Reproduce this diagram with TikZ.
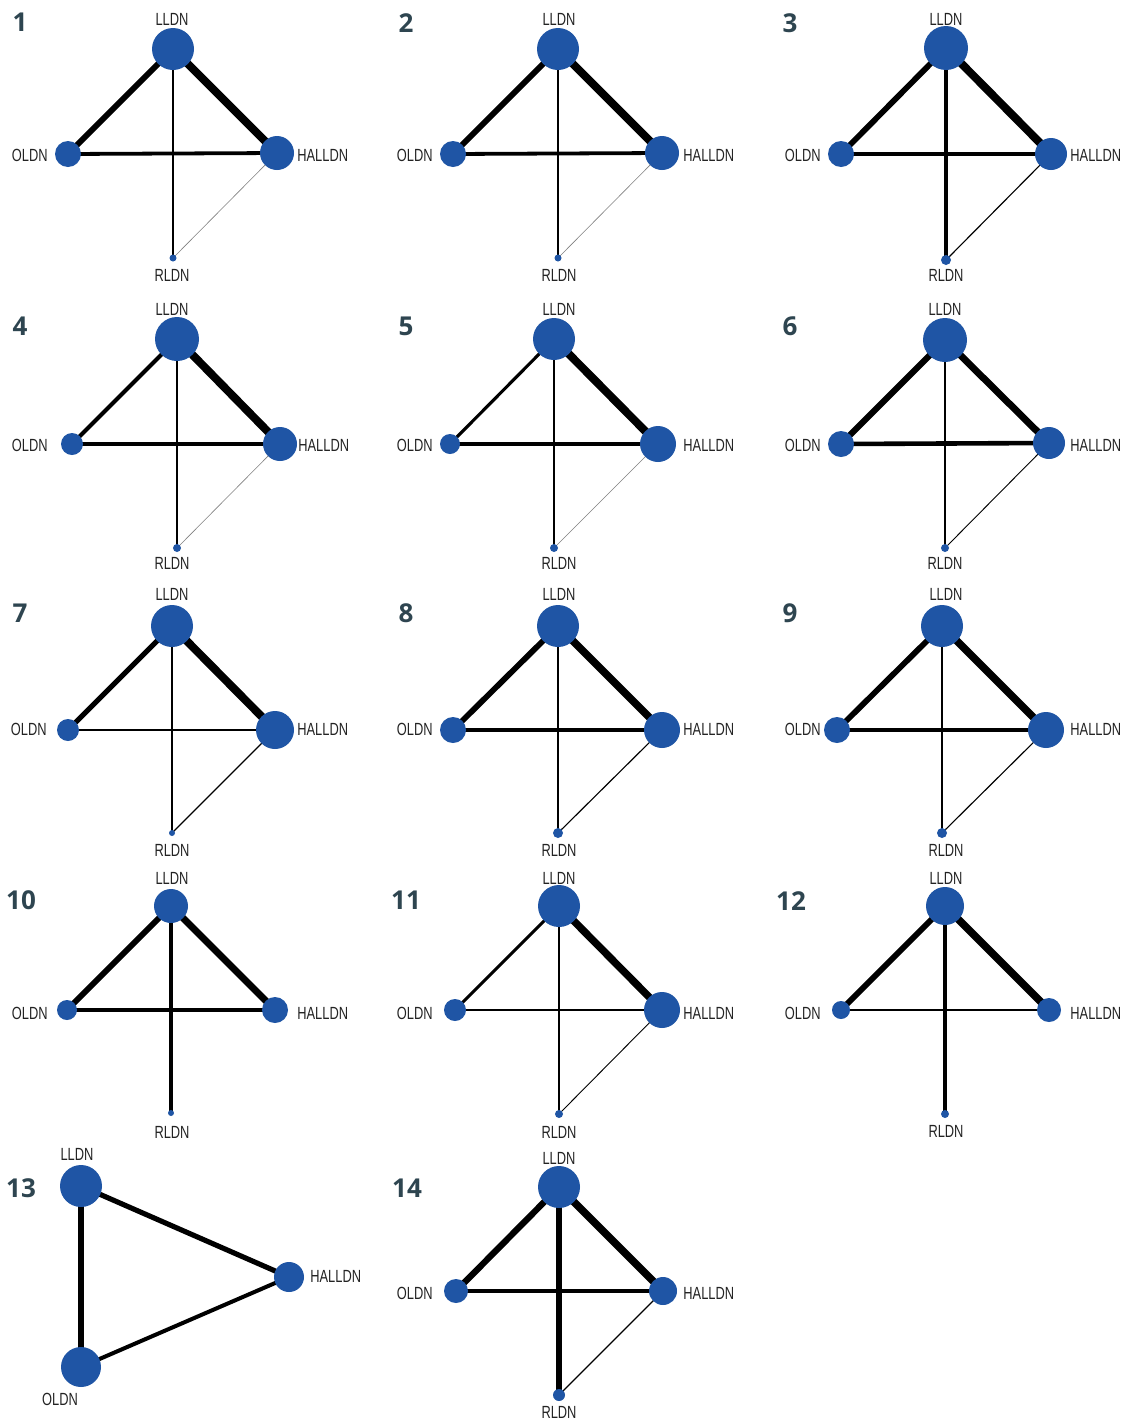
\documentclass[tikz,border=0pt]{standalone}
\usepackage{fontspec}
\newfontfamily\labfont[FakeStretch=0.73]{Liberation Sans}
\newfontfamily\numfont{Open Sans}
\definecolor{nodeblue}{RGB}{31,85,165}
\definecolor{labgray}{RGB}{35,35,35}
\definecolor{numcol}{RGB}{46,69,80}
\pgfdeclarelayer{bg}
\pgfdeclarelayer{paper}
\pgfsetlayers{paper,bg,main}
\tikzset{
  nd/.style={circle, fill=nodeblue, draw=none, inner sep=0pt},
  lab/.style={font=\labfont\fontsize{8.8}{9}\selectfont, text=labgray, inner sep=0pt},
  num/.style={font=\numfont\bfseries\fontsize{13}{14}\selectfont, text=numcol, inner sep=0pt},
  thinedge/.style={line width=0.3pt, draw=gray}
}
% #1 prefix, #2 L pos, #3 L size, #4 O pos, #5 O size, #6 H pos, #7 H size, #8 R pos, #9 R size
\newcommand\net[9]{%
  \node[nd,minimum size=#3pt] (#1L) at (#2) {};
  \node[nd,minimum size=#5pt] (#1O) at (#4) {};
  \node[nd,minimum size=#7pt] (#1H) at (#6) {};
  \node[nd,minimum size=#9pt] (#1R) at (#8) {};}
\newcommand\ed[3]{\begin{pgfonlayer}{bg}\draw[line width={1.15*#1pt}] (#2.center) -- (#3.center);\end{pgfonlayer}}
\newcommand\edg[2]{\begin{pgfonlayer}{bg}\draw[thinedge] (#1.center) -- (#2.center);\end{pgfonlayer}}
% #1 prefix, #2 LLDN/RLDN x, #3 LLDN y, #4 OLDN east x, #5 HALLDN west x, #6 mid y, #7 RLDN y
\newcommand\labset[7]{%
  \node[lab] (#1l) at (#2,#3) {LLDN};
  \node[lab,anchor=east] (#1o) at (#4,#6) {OLDN};
  \node[lab,anchor=west] (#1h) at (#5,#6) {HALLDN};
  \node[lab] (#1r) at (#2,#7) {RLDN};}
\begin{document}
\begin{tikzpicture}[x=0.5pt,y=-0.5pt]
\begin{pgfonlayer}{paper}
\fill[white] (0,0) rectangle (1126,1419);
\end{pgfonlayer}
\useasboundingbox (0,0) rectangle (1126,1419);

% ---------- Panel 1
\node[num] (n1) at (20,22) {1};
\net{a}{173,49}{21}{68,154}{13}{277,153}{17}{173,258}{3.5}
\ed{2.5}{aL}{aO} \ed{3.5}{aL}{aH} \ed{1.65}{aO}{aH} \ed{0.65}{aL}{aR} \edg{aH}{aR}
\labset{a}{172}{19}{48}{297}{155}{275}

% ---------- Panel 2
\node[num] (n2) at (406,23) {2};
\net{b}{558,49}{21}{453,154}{13}{662,153}{17}{558,258}{3.5}
\ed{2.5}{bL}{bO} \ed{3.5}{bL}{bH} \ed{1.65}{bO}{bH} \ed{0.65}{bL}{bR} \edg{bH}{bR}
\labset{b}{559}{19}{433}{683}{155}{275}

% ---------- Panel 3
\node[num] (n3) at (790,23) {3};
\net{c}{946,48}{22}{841,154}{13}{1051,154}{16}{946,260}{5}
\ed{2.5}{cL}{cO} \ed{3.5}{cL}{cH} \ed{2}{cO}{cH} \ed{2}{cL}{cR} \ed{0.5}{cH}{cR}
\labset{c}{946}{19}{821}{1070}{155}{275}

% ---------- Panel 4
\node[num] (n4) at (20,326) {4};
\net{d}{177,339}{22}{72,444}{11}{280,444}{17}{177,548}{4}
\ed{1.75}{dL}{dO} \ed{3.5}{dL}{dH} \ed{1.5}{dO}{dH} \ed{1}{dL}{dR} \edg{dH}{dR}
\labset{d}{172}{309}{48}{298}{445}{563}

% ---------- Panel 5
\node[num] (n5) at (406,326) {5};
\net{e}{554,339}{21}{450,444}{10}{658,444}{18}{554,548}{4}
\ed{1.35}{eL}{eO} \ed{3.5}{eL}{eH} \ed{1.5}{eO}{eH} \ed{1}{eL}{eR} \edg{eH}{eR}
\labset{e}{559}{309}{433}{683}{445}{563}

% ---------- Panel 6
\node[num] (n6) at (790,326) {6};
\net{f}{945,340}{22}{841,444}{13}{1049,443}{16}{945,548}{4}
\ed{2.75}{fL}{fO} \ed{3}{fL}{fH} \ed{2}{fO}{fH} \ed{1.25}{fL}{fR} \ed{0.4}{fH}{fR}
\labset{f}{945}{309}{821}{1070}{445}{563}

% ---------- Panel 7
\node[num] (n7) at (20,613) {7};
\net{g}{172,626}{21}{68,730}{11}{275,730}{19}{172,833}{3}
\ed{2.25}{gL}{gO} \ed{3.5}{gL}{gH} \ed{1.25}{gO}{gH} \ed{0.5}{gL}{gR} \ed{0.5}{gH}{gR}
\labset{g}{172}{594}{47}{297}{729}{850}

% ---------- Panel 8
\node[num] (n8) at (406,613) {8};
\net{h}{558,626}{21}{453,730}{13}{662,730}{18}{558,833}{5}
\ed{2.5}{hL}{hO} \ed{3.25}{hL}{hH} \ed{2}{hO}{hH} \ed{1}{hL}{hR} \ed{0.5}{hH}{hR}
\labset{h}{559}{594}{433}{683}{729}{850}

% ---------- Panel 9
\node[num] (n9) at (790,613) {9};
\net{i}{942,626}{21}{837,730}{13}{1046,730}{18}{942,833}{5}
\ed{2.5}{iL}{iO} \ed{3.25}{iL}{iH} \ed{2}{iO}{iH} \ed{1}{iL}{iR} \ed{0.5}{iH}{iR}
\labset{i}{946}{594}{821}{1070}{729}{850}

% ---------- Panel 10
\node[num] (n10) at (21,900) {10};
\net{j}{171,906}{17}{67,1010}{10}{275,1010}{13}{171,1113}{3}
\ed{2.5}{jL}{jO} \ed{3}{jL}{jH} \ed{1.75}{jO}{jH} \ed{1.5}{jL}{jR}
\labset{j}{172}{878}{48}{297}{1013}{1132}

% ---------- Panel 11
\node[num] (n11) at (406,900) {11};
\net{k}{559,906}{21}{455,1010}{11}{662,1010}{18}{559,1114}{4}
\ed{1.25}{kL}{kO} \ed{3.25}{kL}{kH} \ed{1}{kO}{kH} \ed{0.75}{kL}{kR} \ed{0.4}{kH}{kR}
\labset{k}{559}{878}{433}{683}{1013}{1132}

% ---------- Panel 12
\node[num] (n12) at (791,901) {12};
\net{l}{945,906}{19}{841,1010}{9}{1049,1010}{12}{945,1114}{4}
\ed{2.5}{lL}{lO} \ed{3.25}{lL}{lH} \ed{1.25}{lO}{lH} \ed{1.75}{lL}{lR}
\labset{l}{946}{878}{821}{1070}{1013}{1131}

% ---------- Panel 13
\node[num] (n13) at (21,1188) {13};
\node[nd,minimum size=21pt] (mL) at (81,1186) {};
\node[nd,minimum size=20pt] (mO) at (81,1367) {};
\node[nd,minimum size=15pt] (mH) at (289,1277) {};
\ed{3}{mL}{mO} \ed{2.25}{mL}{mH} \ed{1.75}{mO}{mH}
\node[lab] (ml) at (77,1154) {LLDN};
\node[lab,anchor=west] (mh) at (310,1276) {HALLDN};
\node[lab] (mo) at (60,1399) {OLDN};

% ---------- Panel 14
\node[num] (n14) at (407,1188) {14};
\net{o}{559,1187}{21}{456,1291}{12}{663,1291}{14}{559,1395}{6}
\ed{2.75}{oL}{oO} \ed{3.25}{oL}{oH} \ed{1.5}{oO}{oH} \ed{2.5}{oL}{oR} \ed{0.5}{oH}{oR}
\labset{o}{559}{1158}{433}{683}{1293}{1412}
\end{tikzpicture}
\end{document}
